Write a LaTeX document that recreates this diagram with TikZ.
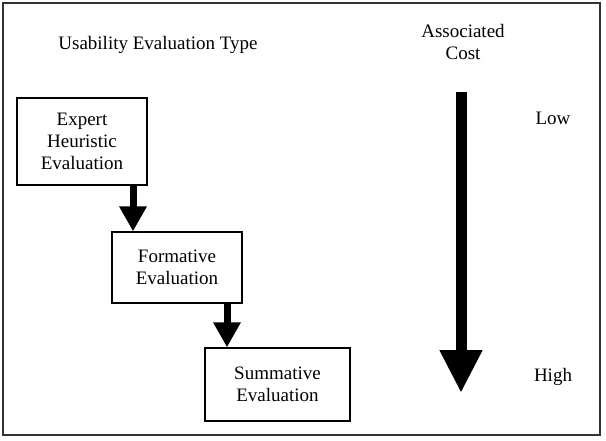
\documentclass[tikz,border=0pt]{standalone}
\usepackage{fontspec}
\setmainfont{Liberation Serif}
\usetikzlibrary{arrows.meta}

\begin{document}
\begin{tikzpicture}[x=1pt,y=-1pt,
  txt/.style={font=\fontsize{19}{22}\selectfont, align=center},
  evalbox/.style={txt, draw, line width=1.3pt, inner sep=0pt},
  flow/.style={line width=7pt, -{Triangle[width=26pt,length=25pt]}},
  cost/.style={line width=11pt, -{Triangle[width=40pt,length=43pt]}}]
  \useasboundingbox (0,0) rectangle (606,440);
  \draw[line width=1.5pt, black!80] (3,3) rectangle (600,435);

  \coordinate (costtop) at (461,92);
  \coordinate (costbot) at (461,393);

  \node[txt] (typehead) at (158,45) {Usability Evaluation Type};
  \node[txt] (costhead) at (463,42) {Associated\\Cost};
  \node[txt] (low) at (553,118) {Low};
  \node[txt] (high) at (553,377) {High};

  \node[evalbox, minimum width=130pt, minimum height=87pt] (expert) at (82,141.5)
    {Expert\\Heuristic\\Evaluation};
  \node[evalbox, minimum width=130pt, minimum height=71pt] (formative) at (177,267.5)
    {Formative\\Evaluation};
  \node[evalbox, minimum width=145pt, minimum height=73pt] (summative) at (277.5,384.5)
    {Summative\\Evaluation};

  \draw[flow] ([xshift=51pt]expert.south) -- ([xshift=51pt]expert.south |- formative.north);
  \draw[flow] ([xshift=50pt]formative.south) -- ([xshift=50pt]formative.south |- summative.north);
  \draw[cost] (costtop) -- (costbot);
\end{tikzpicture}
\end{document}
